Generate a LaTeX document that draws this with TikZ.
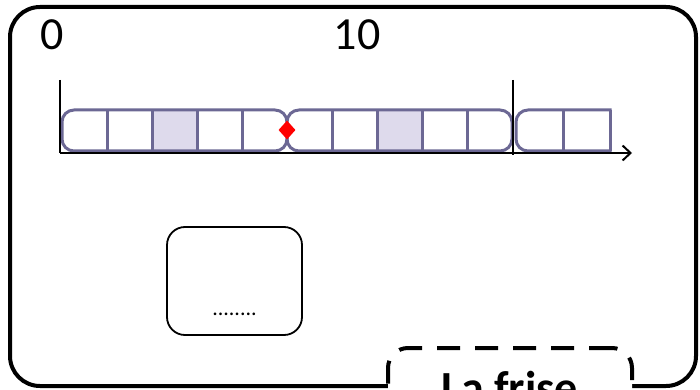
\documentclass[tikz,border=0pt]{standalone}
\usepackage{fontspec}
\setmainfont{Carlito}
\usetikzlibrary{arrows.meta,shapes.geometric}
\definecolor{friezeline}{RGB}{108,104,148}
\definecolor{friezefill}{RGB}{222,218,236}
\tikzset{
  frieze/.style={draw=friezeline,line width=3pt},
  axis/.style={line width=2.4pt},
  big/.style={font=\fontsize{46}{50}\selectfont},
  tile/.style={draw,line width=1.8pt,rounded corners=18pt,minimum width=135pt,minimum height=108pt},
  tag/.style={draw,fill=white,line width=4pt,dash pattern=on 23pt off 15pt,rounded corners=20pt,
    minimum width=244pt,minimum height=80pt,font=\bfseries\fontsize{46}{50}\selectfont}
}
\begin{document}
\begin{tikzpicture}[x=1pt,y=-1pt]
\useasboundingbox (0,0) rectangle (700,390);
\clip (0,0) rectangle (700,390);
\draw[line width=4pt,rounded corners=30pt] (10,7) rectangle (696,386);
% graduations
\node[big,anchor=base] (n0) at (52,50) {0};
\node[big,anchor=base] (n10) at (357,50) {10};
% two groups of five
\foreach \x in {62,287} {
  \fill[friezefill] (\x+90,110) rectangle ++(45,41);
  \draw[frieze,rounded corners=12pt] (\x,110) rectangle ++(225,41);
  \foreach \i in {1,...,4} \draw[frieze] (\x+45*\i,110) -- ++(0,41);
}
% the group that is cut
\begin{scope}
  \clip (505,100) rectangle (611.5,160);
  \draw[frieze,rounded corners=12pt] (516,110) rectangle (640,151);
\end{scope}
\draw[frieze] (563,110) -- (563,151);
\draw[frieze] (610,110) -- (610,151);
% axes
\coordinate (top0) at (60,80);
\coordinate (o) at (60,153);
\coordinate (end) at (632,153);
\coordinate (top10) at (513,80);
\coordinate (foot10) at (513,155);
\draw[line width=2pt] (top0) -- (o);
\draw[line width=1.8pt] (top10) -- (foot10);
\draw[axis,-{Straight Barb[length=8pt,width=15pt,line width=2pt]}] (o) -- (end);
\node[diamond,fill=red,inner sep=0pt,minimum width=17pt,minimum height=19pt] (pin) at (287,130) {};
% box to fill
\node[tile] (slot) at (234.5,281) {};
\node[anchor=base,font=\fontsize{22}{24}\selectfont] (dots) at (234.5,315) {........};
\node[tag] (title) at (510,388) {La frise};
\end{tikzpicture}
\end{document}
